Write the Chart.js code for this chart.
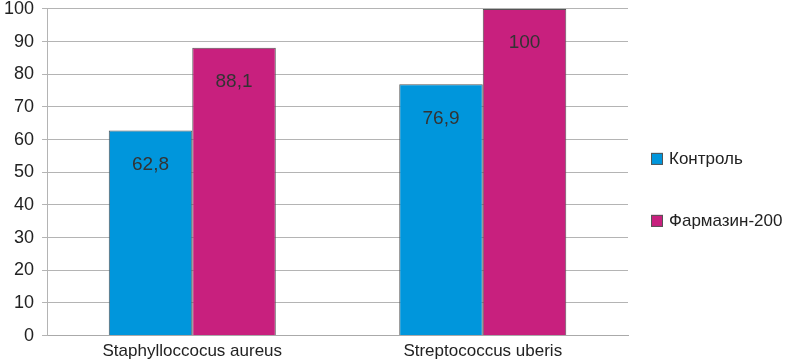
<!DOCTYPE html>
<html>
<head>
<meta charset="utf-8">
<script src="https://cdn.jsdelivr.net/npm/chart.js@4.4.0/dist/chart.umd.min.js"></script>
<style>
  body { margin: 0; background: #fff; }
  #wrap { width: 800px; height: 360px; }
</style>
</head>
<body>
<div id="wrap"><canvas id="chart1" width="800" height="360"></canvas></div>
<script>
const categories = ['Staphylloccocus aureus', 'Streptococcus uberis'];
const seriesNames = ['Контроль', 'Фармазин-200'];
const controlValues = [62.8, 76.9];
const farmazinValues = [88.1, 100];
const yTicks = [0, 10, 20, 30, 40, 50, 60, 70, 80, 90, 100];

const colors = ['#0096dc', '#c8207e'];
const fontFamily = '"Liberation Sans", Arial, Helvetica, sans-serif';

// numbers are shown with a decimal comma
function fmt(v) {
    return String(v).replace('.', ',');
}

const valueLabels = {
    id: 'valueLabels',
    afterDatasetsDraw(chart) {
        const ctx = chart.ctx;
        ctx.save();
        ctx.font = '19px ' + fontFamily;
        ctx.fillStyle = '#333';
        ctx.textAlign = 'center';
        ctx.textBaseline = 'middle';
        chart.data.datasets.forEach((ds, i) => {
            chart.getDatasetMeta(i).data.forEach((bar, j) => {
                ctx.fillText(fmt(ds.data[j]), bar.x, bar.y + 34);
            });
        });
        ctx.restore();
    }
};

const sideLegend = {
    id: 'sideLegend',
    afterDraw(chart) {
        const ctx = chart.ctx;
        const area = chart.chartArea;
        ctx.save();
        ctx.font = '17px ' + fontFamily;
        ctx.textBaseline = 'middle';
        chart.data.datasets.forEach((ds, i) => {
            const x = area.right + 23;
            const y = area.top + 150 + i * 62;
            ctx.fillStyle = ds.backgroundColor;
            ctx.fillRect(x, y - 6, 12, 12);
            ctx.strokeStyle = '#555';
            ctx.lineWidth = 1;
            ctx.strokeRect(x + 0.5, y - 5.5, 11, 11);
            ctx.fillStyle = '#222';
            ctx.fillText(ds.label, x + 18, y);
        });
        ctx.restore();
    }
};

new Chart('chart1', {
    type: 'bar',
    data: {
        labels: categories,
        datasets: [
            { label: seriesNames[0], data: controlValues, backgroundColor: colors[0], borderColor: '#555', borderWidth: 1 },
            { label: seriesNames[1], data: farmazinValues, backgroundColor: colors[1], borderColor: '#555', borderWidth: 1 }
        ]
    },
    options: {
        responsive: false,
        animation: false,
        categoryPercentage: 0.575,
        barPercentage: 1,
        layout: { padding: { top: 0, right: 172, bottom: 0, left: -4 } },
        plugins: {
            legend: { display: false },
            tooltip: { enabled: false }
        },
        scales: {
            x: {
                grid: { display: false },
                border: { color: '#aaa' },
                ticks: { color: '#222', font: { family: fontFamily, size: 17 }, padding: -2 }
            },
            y: {
                min: 0,
                max: 100,
                afterBuildTicks(scale) {
                    scale.ticks = yTicks.map(v => ({ value: v }));
                },
                grid: { color: '#b4b4b4', tickLength: 5 },
                border: { color: '#b4b4b4' },
                ticks: { color: '#222', font: { family: fontFamily, size: 18, lineHeight: 0.1 }, padding: 8 }
            }
        }
    },
    plugins: [valueLabels, sideLegend]
});
</script>
</body>
</html>
